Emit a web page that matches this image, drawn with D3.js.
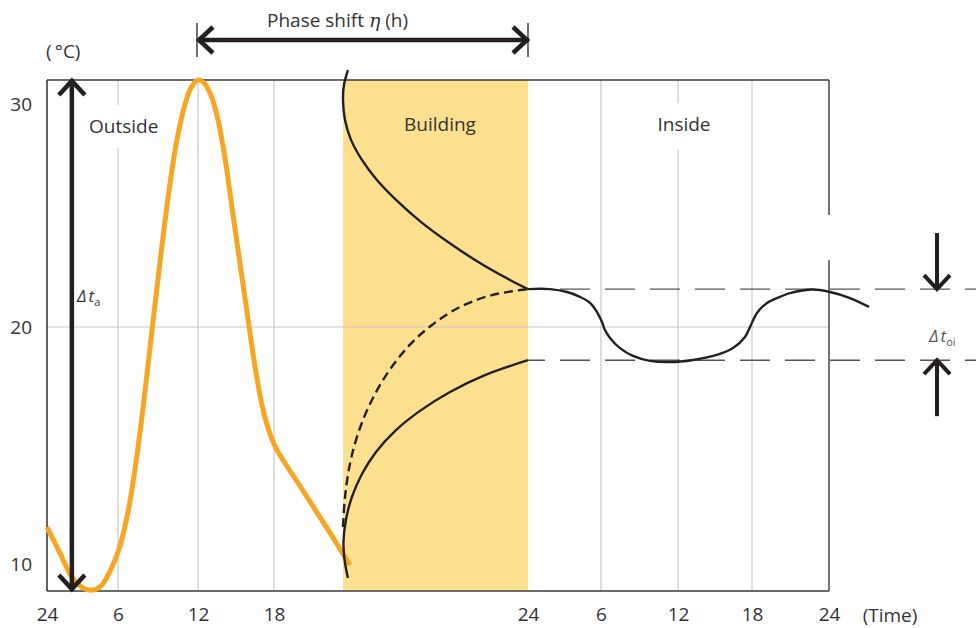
<!DOCTYPE html>
<html>
<head>
<meta charset="utf-8">
<script src="https://cdn.jsdelivr.net/npm/d3@7"></script>
<style>
    body { margin: 0; background: #fff; }
    svg text { font-family: "Open Sans", "Noto Sans", sans-serif; fill: #333; }
</style>
</head>
<body>
<div id="wrapper"></div>
<script>
// Utetemperatur, byggnaden och innetemperatur (timmar, °C)
const outsideHours = [0, 1.10, 2.11, 3.04, 3.80, 4.56, 5.33, 6.08, 6.75, 7.35, 7.95, 8.55, 9.15, 9.75, 10.35, 10.95, 11.47, 12.00,
    12.55, 13.10, 13.58, 14.13, 14.60, 15.16, 15.79, 16.42, 17.05, 17.53, 18.17, 20.26, 22.87, 24.45];
const outsideTemps = [11.56, 10.46, 9.45, 8.99, 8.90, 9.07, 9.70, 10.63, 12.19, 14.30, 16.92, 19.87, 22.91, 25.78, 28.16, 29.82, 30.72, 31.08,
    30.90, 30.27, 29.28, 27.58, 25.70, 23.45, 20.99, 18.61, 16.71, 15.74, 14.89, 13.29, 11.31, 9.96];

const upperHours = [24.32, 24.06, 24.0, 24.13, 24.52, 25.23, 26.20, 27.44, 28.99, 30.81, 32.88, 34.83, 36];
const upperTemps = [31.52, 30.85, 30.18, 29.28, 28.39, 27.49, 26.59, 25.70, 24.75, 23.81, 22.87, 22.11, 21.70];

const dashedHours = [24.0, 24.13, 24.45, 24.97, 25.75, 26.85, 28.21, 29.77, 31.59, 33.66, 36];
const dashedTemps = [11.56, 12.83, 14.22, 15.49, 16.75, 18.02, 19.16, 20.09, 20.90, 21.43, 21.70];

const lowerHours = [24.32, 24.10, 24.03, 24.19, 24.58, 25.23, 26.14, 27.37, 28.99, 30.94, 33.21, 36];
const lowerTemps = [9.41, 10.17, 10.93, 11.86, 12.83, 13.80, 14.73, 15.61, 16.46, 17.26, 17.97, 18.60];

const insideHours = [36, 37.81, 39.21, 40.27, 41.10, 41.67, 42.08, 42.31, 42.70, 43.48, 44.49, 45.82, 47.38, 49.22, 51.16, 52.46,
    53.43, 53.84, 54.39, 55.17, 56.18, 56.96, 58.75, 60.08, 61.64, 63.12];
const insideTemps = [21.70, 21.70, 21.57, 21.35, 21.08, 20.67, 20.22, 19.87, 19.54, 19.11, 18.78, 18.57, 18.52, 18.61, 18.82, 19.11,
    19.58, 20.0, 20.63, 21.08, 21.35, 21.52, 21.68, 21.57, 21.30, 20.90];

const insideLevels = [21.7, 18.6];
const buildingSpan = [24, 36];

const tickHours = [0, 6, 12, 18, 36, 42, 48, 54, 60];
const tickLabels = ["24", "6", "12", "18", "24", "6", "12", "18", "24"];
const gridHours = [6, 12, 18, 42, 48, 54];
const tempTicks = [10, 20, 30];
const gridTemps = [20];


const wsvg = 976;
const hsvg = 628;
const mLeft = 47, mRight = 829, mTop = 80, mBottom = 591;

const svg = d3.select("#wrapper").append("svg")
    .attr("width", wsvg)
    .attr("height", hsvg)
    .attr("viewBox", `0 0 ${wsvg} ${hsvg}`);

const xScale = d3.scaleLinear([0, 6, 12, 18, 24, 36, 42, 48, 54, 60], [mLeft, 118, 198, 274, 343, 528, 601, 678, 752, mRight]);
const yScale = d3.scaleLinear([10, 20, 30], [564, 327, 104]);

const ink = "#231f20";

// byggnaden
svg.append("rect")
    .attr("x", xScale(buildingSpan[0]))
    .attr("y", mTop)
    .attr("width", xScale(buildingSpan[1]) - xScale(buildingSpan[0]))
    .attr("height", mBottom - mTop)
    .attr("fill", "#fde08f");

// rutnät
svg.selectAll(".vgrid")
    .data(gridHours)
    .enter()
    .append("line")
    .attr("class", "vgrid")
    .attr("x1", d => xScale(d)).attr("x2", d => xScale(d))
    .attr("y1", mTop).attr("y2", mBottom)
    .attr("stroke", "#c8c8c8")
    .attr("stroke-width", 1.2);

svg.selectAll(".hgrid")
    .data(gridTemps)
    .enter()
    .append("line")
    .attr("class", "hgrid")
    .attr("x1", mLeft).attr("x2", mRight)
    .attr("y1", d => yScale(d)).attr("y2", d => yScale(d))
    .attr("stroke", "#c8c8c8")
    .attr("stroke-width", 1.2);

// ram
const frame = svg.append("g").attr("stroke", "#3a3a3a").attr("stroke-width", 1.4);
frame.append("line").attr("x1", mLeft).attr("x2", mRight).attr("y1", mTop).attr("y2", mTop);
frame.append("line").attr("x1", mLeft).attr("x2", mRight).attr("y1", mBottom).attr("y2", mBottom);
frame.append("line").attr("x1", mLeft).attr("x2", mLeft).attr("y1", mTop).attr("y2", mBottom).attr("stroke", ink);
frame.append("line").attr("x1", mRight).attr("x2", mRight).attr("y1", mTop).attr("y2", 215);
frame.append("line").attr("x1", mRight).attr("x2", mRight).attr("y1", 260).attr("y2", mBottom);

// axlar
const xAxis = d3.axisBottom(xScale)
    .tickValues(tickHours)
    .tickFormat((d, i) => tickLabels[i])
    .tickSize(0)
    .tickPadding(17);

svg.append("g")
    .attr("transform", `translate(0, ${mBottom})`)
    .call(xAxis)
    .call(g => g.select(".domain").remove())
    .attr("font-size", 19)
    .attr("font-family", null)
    .attr("color", "#333");

const yAxis = d3.axisLeft(yScale)
    .tickValues(tempTicks)
    .tickSize(0)
    .tickPadding(15);

svg.append("g")
    .attr("transform", `translate(${mLeft}, 0)`)
    .call(yAxis)
    .call(g => g.select(".domain").remove())
    .attr("font-size", 19)
    .attr("font-family", null)
    .attr("color", "#333");

svg.append("text").attr("x", 890).attr("y", 622).attr("text-anchor", "middle")
    .attr("font-size", 19).text("(Time)");
svg.append("text").attr("x", 46).attr("y", 58)
    .attr("font-size", 19).text("(\u2009°C)");

// streckade nivålinjer inne
svg.selectAll(".level")
    .data(insideLevels)
    .enter()
    .append("line")
    .attr("class", "level")
    .attr("x1", xScale(buildingSpan[1])).attr("x2", wsvg)
    .attr("y1", d => yScale(d)).attr("y2", d => yScale(d))
    .attr("stroke", "#555")
    .attr("stroke-width", 1.4)
    .attr("stroke-dasharray", "30 15")
    .attr("stroke-dashoffset", 13);

// kurvor
const line = d3.line()
    .x(d => xScale(d[0]))
    .y(d => yScale(d[1]))
    .curve(d3.curveCatmullRom.alpha(0.5));

function drawCurve(hours, temps, color, width, dash) {
    svg.append("path")
        .datum(d3.zip(hours, temps))
        .attr("d", line)
        .attr("fill", "none")
        .attr("stroke", color)
        .attr("stroke-width", width)
        .attr("stroke-linecap", "butt")
        .attr("stroke-linejoin", "round")
        .attr("stroke-dasharray", dash);
}

drawCurve(outsideHours, outsideTemps, "#f6a623", 5, null);
drawCurve(upperHours, upperTemps, ink, 2.4, null);
drawCurve(dashedHours, dashedTemps, ink, 2.4, "9 5");
drawCurve(lowerHours, lowerTemps, ink, 2.4, null);
drawCurve(insideHours, insideTemps, ink, 2.4, null);

// pilar
function arrowHead(x, y, dir, width) {
    const a = 13, b = 14;
    let p;
    if (dir === "up") p = [[x - a, y + b], [x, y], [x + a, y + b]];
    if (dir === "down") p = [[x - a, y - b], [x, y], [x + a, y - b]];
    if (dir === "left") p = [[x + b, y - a], [x, y], [x + b, y + a]];
    if (dir === "right") p = [[x - b, y - a], [x, y], [x - b, y + a]];
    svg.append("path")
        .attr("d", d3.line()(p))
        .attr("fill", "none")
        .attr("stroke", ink)
        .attr("stroke-width", width);
}

function arrowLine(x1, y1, x2, y2, width) {
    svg.append("line")
        .attr("x1", x1).attr("y1", y1).attr("x2", x2).attr("y2", y2)
        .attr("stroke", ink)
        .attr("stroke-width", width);
}

// Δt_a
const ax = xScale(2.1);
const yMax = yScale(d3.max(outsideTemps));
const yMin = yScale(d3.min(outsideTemps));
arrowLine(ax, yMax + 1, ax, yMin - 1, 4.5);
arrowHead(ax, yMax + 1, "up", 4.5);
arrowHead(ax, yMin - 1, "down", 4.5);

// fasförskjutning
const px1 = xScale(12), px2 = xScale(36), py = 40;
arrowLine(px1, py, px2, py, 4.5);
arrowHead(px1 + 1, py, "left", 4.5);
arrowHead(px2 - 1, py, "right", 4.5);
arrowLine(px1 - 1, 23, px1 - 1, 57, 1.3);
arrowLine(px2, 23, px2, 57, 1.3);

// Δt_oi
const ox = 937;
const yHi = yScale(insideLevels[0]), yLo = yScale(insideLevels[1]);
arrowLine(ox, yHi - 56, ox, yHi, 4);
arrowHead(ox, yHi, "down", 4);
arrowLine(ox, yLo, ox, yLo + 56, 4);
arrowHead(ox, yLo, "up", 4);

// etiketter
const outsideLabel = svg.append("g");
outsideLabel.append("rect").attr("x", 86).attr("y", 105).attr("width", 74).attr("height", 43).attr("fill", "#fff");
outsideLabel.append("text").attr("x", 89).attr("y", 133).attr("font-size", 19).text("Outside");

svg.append("text").attr("x", 440).attr("y", 131).attr("text-anchor", "middle")
    .attr("font-size", 19).text("Building");

const insideLabel = svg.append("g");
insideLabel.append("rect").attr("x", 655).attr("y", 103).attr("width", 58).attr("height", 47).attr("fill", "#fff");
insideLabel.append("text").attr("x", 684).attr("y", 131).attr("text-anchor", "middle")
    .attr("font-size", 19).text("Inside");

const phaseText = svg.append("text").attr("x", 267).attr("y", 27).attr("font-size", 19);
phaseText.append("tspan").text("Phase shift ");
phaseText.append("tspan").attr("font-style", "italic").attr("font-family", "DejaVu Serif").text("η");
phaseText.append("tspan").text(" (h)");

const taText = svg.append("text").attr("x", 77).attr("y", 302).attr("font-size", 17);
taText.append("tspan").attr("font-style", "italic").text("Δ");
taText.append("tspan").attr("font-style", "italic").attr("dx", 2).text("t");
taText.append("tspan").attr("font-size", 11).attr("dy", 4).text("a");

const toiText = svg.append("text").attr("x", 929).attr("y", 342).attr("font-size", 17);
toiText.append("tspan").attr("font-style", "italic").style("fill", "#555").text("Δ");
toiText.append("tspan").attr("font-style", "italic").attr("dx", 2).style("fill", "#555").text("t");
toiText.append("tspan").attr("font-size", 11).attr("dy", 4).style("fill", "#555").text("oi");
</script>
</body>
</html>
